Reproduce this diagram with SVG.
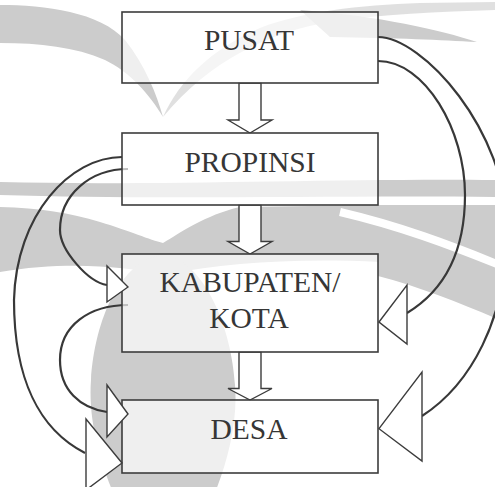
<svg xmlns="http://www.w3.org/2000/svg" width="495" height="487" viewBox="0 0 495 487">
  <defs>
    <style>
      .wm { fill: #cccccc; stroke: none; }
      .box { fill: #ffffff; fill-opacity: 0.68; stroke: #3c3c3c; stroke-width: 1.6; }
      .lbl { font-family: "Liberation Serif", "Times New Roman", serif; font-size: 29.5px; fill: #363636; text-anchor: middle; }
      .blk { fill: #ffffff; stroke: #3c3c3c; stroke-width: 1.4; stroke-linejoin: miter; }
      .con { fill: none; stroke: #383838; stroke-width: 2.2; }
      .head { fill: #ffffff; stroke: #3c3c3c; stroke-width: 1.4; stroke-linejoin: miter; }
    </style>
  </defs>
  <rect width="495" height="487" fill="#ffffff"/>
  <g id="watermark">
    <path class="wm" d="M0,5 C45,5 100,12 125,40 C145,65 157,95 163,117 C150,95 130,72 105,60 C75,47 40,43 0,43 Z"/>
    <path class="wm" d="M163,117 C180,80 210,50 260,28 C300,12 360,5 420,3 L495,2 L495,10 C440,12 380,14 330,22 C270,32 210,60 163,117 Z" opacity="0.6"/>
    <path class="wm" d="M300,10 C380,16 440,30 477,42 C440,40 400,38 330,37 Z"/>
    <path class="wm" d="M0,182 C150,186 350,178 495,180 L495,197 C350,195 150,200 0,195 Z"/>
    <path class="wm" d="M0,207 C40,208 70,213 100,222 C130,231 150,240 163,243 C180,233 205,215 240,207 L380,205 L380,262 C300,258 230,262 163,275 C120,265 60,262 0,272 Z"/>
    <path class="wm" d="M378,205 L495,205 L495,318 C460,303 420,287 378,276 Z"/>
    <path d="M340,212 C400,226 450,245 497,264" fill="none" stroke="#ffffff" stroke-width="8"/>
    <path class="wm" d="M163,255 C120,260 95,320 91,380 C88,420 100,460 112,490 L216,490 C228,460 238,420 235,385 C232,330 205,260 163,255 Z"/>
  </g>
  <g id="connectors">
    <polygon class="blk" points="239,83 261,83 261,120 272,120 250,133 228,120 239,120"/>
    <polygon class="blk" points="239,205 261,205 261,241.5 272,241.5 250,254 228,241.5 239,241.5"/>
    <polygon class="blk" points="239,352 261,352 261,388.5 272,388.5 250,400 228,388.5 239,388.5"/>
    <path class="con" d="M378,37 C422,37 507,130 507,230 C507,320 470,385 422,416"/>
    <path class="con" d="M378,61 C425,61 465,130 465,195 C465,250 445,290 407,313"/>
    <path class="con" d="M122,157 C70,157 16,215 14,300 C14,380 40,430 85,453"/>
    <path class="con" d="M128,169 C90,169 60,195 60,230 C60,250 88,282 107,285"/>
    <path class="con" d="M128,305 C90,305 60,325 60,360 C60,390 80,408 107,412"/>
  </g>
  <g id="pusat">
    <rect class="box" x="122" y="12" width="256" height="71"/>
    <text class="lbl" x="249" y="50">PUSAT</text>
  </g>
  <g id="propinsi">
    <rect class="box" x="122" y="133" width="256" height="72"/>
    <text class="lbl" x="250" y="171.5">PROPINSI</text>
  </g>
  <g id="kabupaten">
    <rect class="box" x="122" y="254" width="256" height="98"/>
    <text class="lbl" x="250" y="292">KABUPATEN/</text>
    <text class="lbl" x="249" y="327.5">KOTA</text>
  </g>
  <g id="desa">
    <rect class="box" x="122" y="400" width="256" height="73"/>
    <text class="lbl" x="249" y="438.5">DESA</text>
  </g>
  <g id="arrowheads">
    <polygon class="head" points="379,322 407,285 407,344"/>
    <polygon class="head" points="379,428.7 422,372 422,461"/>
    <polygon class="head" points="128,287 107,266 107,302"/>
    <polygon class="head" points="128,414 107,385 107,437"/>
    <polygon class="head" points="122,463 86,419 86,490"/>
  </g>
</svg>
